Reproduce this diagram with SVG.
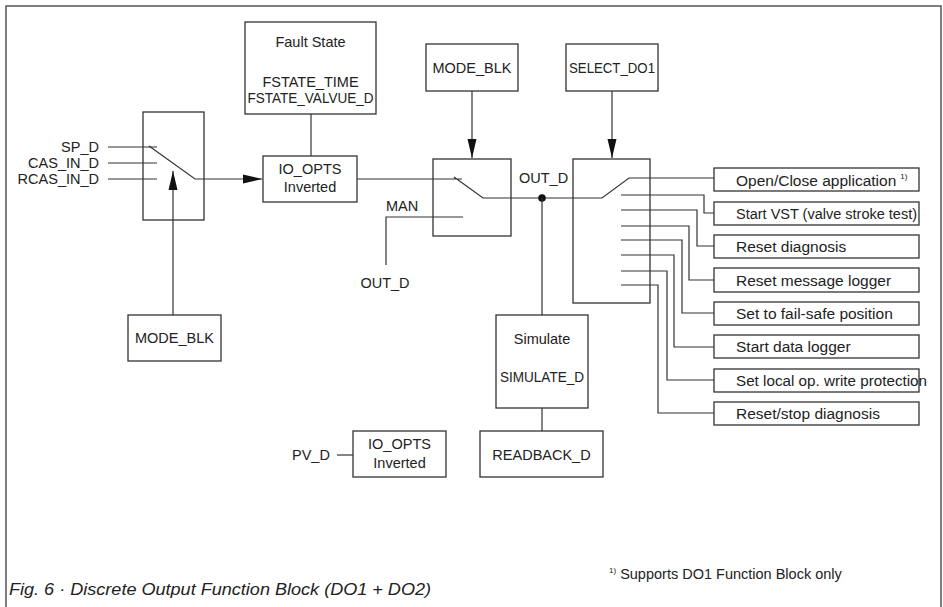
<svg xmlns="http://www.w3.org/2000/svg" width="943" height="607" viewBox="0 0 943 607">
<defs>
<style>
text{font-family:"Liberation Sans",Arial,sans-serif;font-size:14.5px;fill:#222}
.box{fill:#fff;stroke:#333;stroke-width:1.3}
.sw{fill:none;stroke:#333;stroke-width:1.3}
.ln{fill:none;stroke:#333;stroke-width:1.2}
.c{text-anchor:middle}
.r{font-size:15.5px}
</style>
<marker id="ah" markerWidth="20" markerHeight="10" refX="19" refY="5" orient="auto" markerUnits="userSpaceOnUse"><path d="M0,0.5 L19,5 L0,9.5 Z" fill="#111"/></marker>
</defs>
<rect width="943" height="607" fill="#fff"/>
<path d="M6,612 V6 H941 V612" fill="none" stroke="#555" stroke-width="1.5"/>

<g id="connectors">
<path class="ln" d="M108,147 H157 M108,163 H157 M108,179 H157"/>
<path class="ln" d="M149,146 L195,179 H262" marker-end="url(#ah)"/>
<path class="ln" d="M173,315 V171" marker-end="url(#ah)"/>
<path class="ln" d="M311,114 V156"/>
<path class="ln" d="M357,179 H462 M454,177 L483,198 H602 L629,178 H714"/>
<path class="ln" d="M463,217 H386 V265"/>
<path class="ln" d="M472,91 V158" marker-end="url(#ah)"/>
<path class="ln" d="M612,91 V158" marker-end="url(#ah)"/>
<circle cx="542" cy="198" r="3.8" fill="#111"/>
<path class="ln" d="M542,198 V315 M542,408 V431"/>
<path class="ln" d="M337,455 H353"/>
<path class="ln" d="M621,195 H704 V213 H714"/>
<path class="ln" d="M621,210 H697 V246 H714"/>
<path class="ln" d="M621,226 H689 V280 H714"/>
<path class="ln" d="M621,240 H682 V313 H714"/>
<path class="ln" d="M621,255 H674 V347 H714"/>
<path class="ln" d="M621,271 H667 V380 H714"/>
<path class="ln" d="M621,285 H658 V413 H714"/>
</g>

<g id="inputs-labels">
<text x="99" y="152" text-anchor="end">SP_D</text>
<text x="99" y="168" text-anchor="end">CAS_IN_D</text>
<text x="99" y="184" text-anchor="end">RCAS_IN_D</text>
</g>

<g id="mode-switch-in"><rect class="sw" x="143" y="112" width="61" height="108"/></g>
<g id="mode-blk-left"><rect class="box" x="128" y="315" width="93" height="46"/><text class="c" x="174.5" y="343">MODE_BLK</text></g>
<g id="fault-state"><rect class="box" x="245" y="22" width="131" height="92"/>
<text class="c" x="310.5" y="47">Fault State</text>
<text class="c" x="310.5" y="87">FSTATE_TIME</text>
<text class="c" x="310.5" y="103" textLength="126" lengthAdjust="spacingAndGlyphs">FSTATE_VALVUE_D</text></g>
<g id="io-opts"><rect class="box" x="263" y="156" width="94" height="46"/>
<text class="c" x="310" y="174">IO_OPTS</text><text class="c" x="310" y="192">Inverted</text></g>
<g id="man-switch"><rect class="sw" x="433" y="159" width="78" height="77"/></g>
<g id="mode-blk-top"><rect class="box" x="426" y="44" width="92" height="47"/><text class="c" x="472" y="73">MODE_BLK</text></g>
<g id="select-do1"><rect class="box" x="566" y="44" width="92" height="47"/><text class="c" x="612" y="73" textLength="86" lengthAdjust="spacingAndGlyphs">SELECT_DO1</text></g>
<g id="select-switch"><rect class="sw" x="573" y="159" width="77" height="144"/></g>
<g id="labels">
<text x="519" y="183">OUT_D</text>
<text x="386" y="211">MAN</text>
<text class="c" x="385" y="288">OUT_D</text>
<text x="292" y="460">PV_D</text>
</g>
<g id="simulate"><rect class="box" x="496" y="315" width="92" height="93"/>
<text class="c" x="542" y="344">Simulate</text>
<text class="c" x="542" y="382" textLength="84" lengthAdjust="spacingAndGlyphs">SIMULATE_D</text></g>
<g id="readback"><rect class="box" x="480" y="431" width="123" height="46"/><text class="c" x="541.5" y="460">READBACK_D</text></g>
<g id="io-opts-pv"><rect class="box" x="353" y="431" width="93" height="46"/>
<text class="c" x="399.5" y="449">IO_OPTS</text><text class="c" x="399.5" y="468">Inverted</text></g>

<g id="out-open"><rect class="box" x="714" y="168" width="205" height="23"/><text class="r" x="736" y="186">Open/Close application<tspan font-size="8" dy="-7" dx="4">1)</tspan></text></g>
<g id="out-vst"><rect class="box" x="714" y="202" width="205" height="23"/><text class="r" x="736" y="219" textLength="181" lengthAdjust="spacingAndGlyphs">Start VST (valve stroke test)</text></g>
<g id="out-reset-diag"><rect class="box" x="714" y="235" width="205" height="23"/><text class="r" x="736" y="252">Reset diagnosis</text></g>
<g id="out-reset-msg"><rect class="box" x="714" y="268" width="205" height="24"/><text class="r" x="736" y="286">Reset message logger</text></g>
<g id="out-failsafe"><rect class="box" x="714" y="302" width="205" height="23"/><text class="r" x="736" y="319">Set to fail-safe position</text></g>
<g id="out-datalog"><rect class="box" x="714" y="335" width="205" height="23"/><text class="r" x="736" y="352">Start data logger</text></g>
<g id="out-writeprot"><rect class="box" x="714" y="369" width="205" height="23"/><text class="r" x="736" y="386" textLength="191" lengthAdjust="spacingAndGlyphs">Set local op. write protection</text></g>
<g id="out-reset-stop"><rect class="box" x="714" y="402" width="205" height="23"/><text class="r" x="736" y="419">Reset/stop diagnosis</text></g>

<text x="609" y="579" style="font-size:14.5px"><tspan font-size="8" dy="-6">1)</tspan><tspan dy="6" dx="4">Supports DO1 Function Block only</tspan></text>
<text x="9" y="595" style="font-size:16px;font-style:italic" textLength="422" lengthAdjust="spacingAndGlyphs">Fig. 6 · Discrete Output Function Block (DO1 + DO2)</text>
</svg>
